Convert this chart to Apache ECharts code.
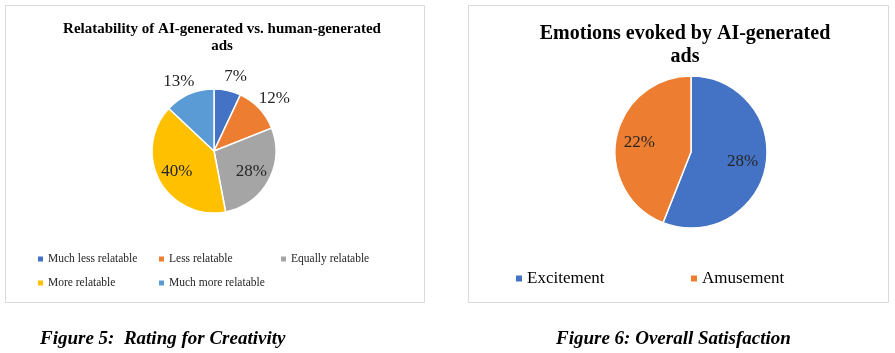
<!DOCTYPE html>
<html>
<head>
<meta charset="utf-8">
<script src="https://cdn.jsdelivr.net/npm/echarts@6/dist/echarts.min.js"></script>
<style>
  html, body { margin: 0; padding: 0; background: #fff; }
  #chart { width: 895px; height: 353px; }
</style>
</head>
<body>
<div id="chart"></div>
<script>
// Données des deux figures
const relatCategories = ['Much less relatable', 'Less relatable', 'Equally relatable', 'More relatable', 'Much more relatable'];
const relatValues = [7, 12, 28, 40, 13];
const relatColors = ['#4472C4', '#ED7D31', '#A5A5A5', '#FFC000', '#5B9BD5'];
const relatLabelPos = ['outside', 'outside', 'inside', 'inside', 'outside'];

const emotionCategories = ['Excitement', 'Amusement'];
const emotionValues = [28, 22];
const emotionColors = ['#4472C4', '#ED7D31'];

const serif = '"Liberation Serif", "Times New Roman", serif';
const textColor = '#262626';

// centres des camemberts (mise en page)
const relatCenter = [214, 151];
const emotionCenter = [691, 152];

const chart = echarts.init(document.getElementById('chart'));

const relatData = relatCategories.map((name, i) => ({
    name: name,
    value: relatValues[i],
    itemStyle: { color: relatColors[i] },
    label: { position: relatLabelPos[i] }
}));

const emotionData = emotionCategories.map((name, i) => ({
    name: name,
    value: emotionValues[i],
    itemStyle: { color: emotionColors[i] }
}));

// Excel met les étiquettes internes plus loin du centre qu'ECharts (r/2)
function pushLabel(center, factor) {
    return function (p) {
        const lx = p.labelRect.x + p.labelRect.width / 2;
        const ly = p.labelRect.y + p.labelRect.height / 2;
        const out = { align: 'center', hideOverlap: false };
        if (p.labelLinePoints) return out; // étiquette externe
        out.dx = (lx - center[0]) * (factor - 1);
        out.dy = (ly - center[1]) * (factor - 1);
        return out;
    };
}

function legendItem(name, left, top, size, fontSize, color) {
    return {
        data: [name],
        left: left, top: top, padding: 0,
        icon: 'rect', itemWidth: size, itemHeight: size,
        itemStyle: { borderWidth: 0 },
        selectedMode: false,
        textStyle: { fontFamily: serif, fontSize: fontSize, color: color }
    };
}

chart.setOption({
    backgroundColor: '#fff',
    animation: false,
    title: [
        {
            text: 'Relatability of AI-generated vs. human-generated\nads',
            left: 217, top: 16, textAlign: 'center',
            textStyle: { fontFamily: serif, fontSize: 15, fontWeight: 'bold', color: '#000', lineHeight: 17 }
        },
        {
            text: 'Emotions evoked by AI-generated\nads',
            left: 680, top: 17, textAlign: 'center',
            textStyle: { fontFamily: serif, fontSize: 20, fontWeight: 'bold', color: '#000', lineHeight: 23 }
        }
    ],
    legend: [
        legendItem(relatCategories[0], 38, 253, 5, 11.5, textColor),
        legendItem(relatCategories[1], 159, 253, 5, 11.5, textColor),
        legendItem(relatCategories[2], 281, 253, 5, 11.5, textColor),
        legendItem(relatCategories[3], 38, 277, 5, 11.5, textColor),
        legendItem(relatCategories[4], 159, 277, 5, 11.5, textColor),
        legendItem(emotionCategories[0], 516, 270, 6, 17, '#000'),
        legendItem(emotionCategories[1], 691, 270, 6, 17, '#000')
    ],
    graphic: [
        { type: 'rect', shape: { x: 5.5, y: 5.5, width: 419, height: 297 }, style: { fill: 'none', stroke: '#D9D9D9', lineWidth: 1 }, silent: true },
        { type: 'rect', shape: { x: 468.5, y: 5.5, width: 420, height: 297 }, style: { fill: 'none', stroke: '#D9D9D9', lineWidth: 1 }, silent: true },
        {
            type: 'text', left: 40, top: 330,
            style: { text: 'Figure 5:  Rating for Creativity', font: 'italic bold 19px ' + serif, fill: '#000' }
        },
        {
            type: 'text', left: 556, top: 330,
            style: { text: 'Figure 6: Overall Satisfaction', font: 'italic bold 19px ' + serif, fill: '#000' }
        }
    ],
    series: [
        {
            type: 'pie',
            center: relatCenter,
            radius: 62,
            startAngle: 90,
            clockwise: true,
            itemStyle: { borderColor: '#fff', borderWidth: 1.5 },
            label: { show: true, formatter: '{c}%', fontFamily: serif, fontSize: 17, color: textColor },
            labelLine: { show: false, length: 14, length2: 0 },
            labelLayout: pushLabel(relatCenter, 1.25),
            emphasis: { disabled: true },
            data: relatData
        },
        {
            type: 'pie',
            center: emotionCenter,
            radius: 76,
            startAngle: 90,
            clockwise: true,
            itemStyle: { borderColor: '#fff', borderWidth: 1.5 },
            label: { show: true, position: 'inside', formatter: '{c}%', fontFamily: serif, fontSize: 17, color: textColor },
            labelLayout: pushLabel(emotionCenter, 1.28),
            emphasis: { disabled: true },
            data: emotionData
        }
    ]
});
</script>
</body>
</html>
